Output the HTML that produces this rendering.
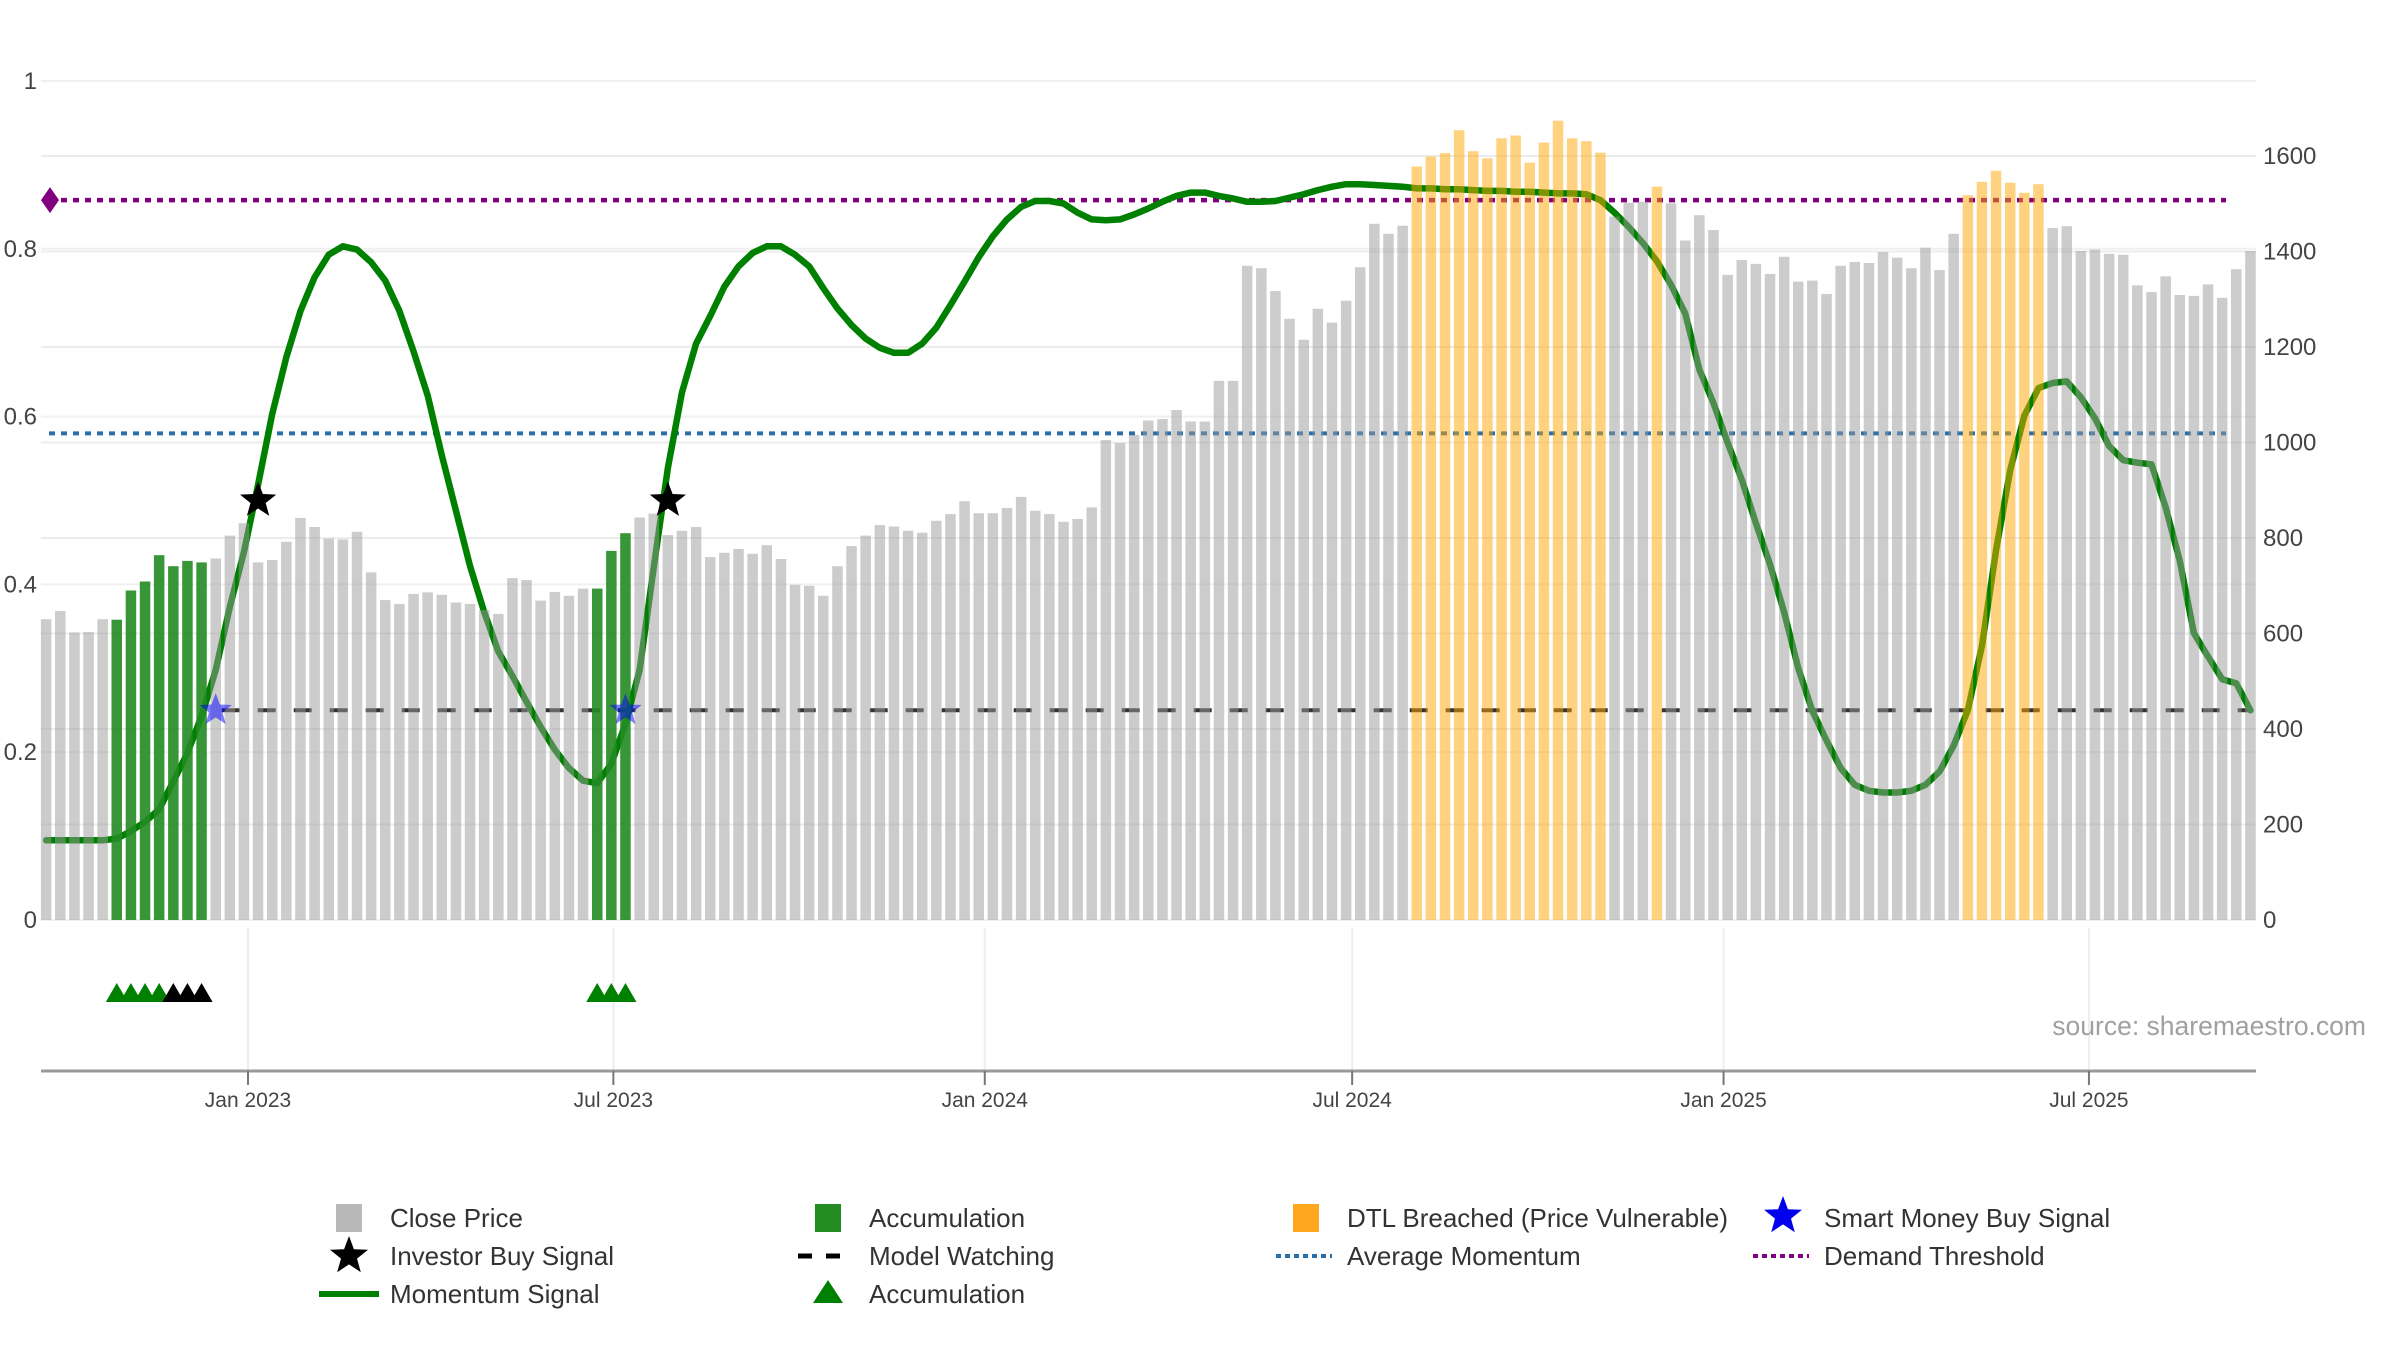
<!DOCTYPE html>
<html><head><meta charset="utf-8"><title>Momentum chart</title>
<style>
html,body{margin:0;padding:0;background:#fff;}
svg{display:block;font-family:"Liberation Sans",sans-serif;}
</style></head>
<body>
<svg id="chart" xmlns="http://www.w3.org/2000/svg" width="2400" height="1350" viewBox="0 0 2400 1350">
<rect x="0" y="0" width="2400" height="1350" fill="#fff"/>
<g id="grid"></g>
<g id="lines"></g>
<g id="momentum"></g>
<g id="bars"></g>
<g id="markers"></g>
<g id="axes"></g>
<text x="2366" y="1035" text-anchor="end" font-size="26.5" fill="#a0a0a0">source: sharemaestro.com</text>
<g id="legend"></g>
</svg>
<script>
// ---------- data ----------
const startDate = "2022-09-23"; // first weekly bar
const closePrice = [
630,647,602,603,630,629,690,709,764,741,752,749,757,805,831,749,754,792,842,823,
799,797,813,728,670,662,683,686,681,665,662,649,641,716,712,669,687,679,694,694,
773,810,843,851,
806,815,823,760,769,777,767,785,756,702,700,679,741,783,805,827,824,815,811,836,
850,877,852,852,863,886,857,850,834,840,864,1005,999,1016,1046,1049,1068,1044,1044,1129,
1129,1370,1365,1317,1259,1215,1280,1251,1297,1367,1458,1437,1454,
1578,1599,1606,1654,1610,1595,1637,1643,1586,1628,1674,1637,1631,1607,
1473,1502,1504,1536,
1501,1423,1476,1445,1351,1382,1374,1353,1389,1337,1339,1311,1370,1378,1376,1399,1387,1365,1408,1361,1437,
1518,1546,1569,1544,1523,1541,
1449,1453,1401,1404,1395,1393,1329,1315,1348,1309,1307,1331,1303,1363,1401
];
// bar category runs: n = close price, g = accumulation, o = DTL breached
const barTypeRuns = [["n",5],["g",7],["n",27],["g",3],["n",55],["o",14],["n",3],["o",1],["n",21],["o",6],["n",15]];
const momentum = [
.095,.095,.095,.095,.095,.097,.106,.117,.132,.165,.199,.243,.298,.373,.439,.519,.603,.671,.726,.766,
.793,.803,.799,.784,.762,.726,.678,.625,.554,.488,.422,.367,.320,.291,.260,.230,.203,.181,.166,.163,
.186,.234,.298,.420,.539,.629,.687,.720,.755,.779,.795,.803,.803,.793,.779,.753,.729,.709,.693,.682,
.676,.676,.687,.706,.733,.761,.790,.815,.835,.850,.857,.857,.854,.843,.835,.834,.835,.841,.848,.856,
.863,.867,.867,.863,.860,.856,.856,.857,.861,.865,.870,.874,.877,.877,.876,.875,.874,.872,.872,.871,
.871,.870,.869,.869,.868,.868,.867,.866,.866,.865,.858,.843,.826,.807,.785,.757,.723,.656,.616,.569,
.525,.473,.424,.367,.300,.249,.214,.181,.161,.154,.152,.152,.154,.161,.177,.208,.250,.327,.441,.536,
.601,.634,.640,.642,.623,.598,.565,.548,.545,.543,.492,.428,.342,.314,.287,.282,.250
];
const investorBuyIdx = [15, 44];
const investorBuyLevel = [0.5, 0.5];
const smartMoneyIdx = [12, 41];
const smartMoneyLevel = [0.25, 0.25];
const accumTriIdx = [5,6,7,8,39,40,41];
const blackTriIdx = [9,10,11];
const demandThreshold = 0.858;
const averageMomentum = 0.580;
const modelWatching = 0.25;
const modelWatchStartIdx = 12;
const leftTicks = [0,0.2,0.4,0.6,0.8,1];
const leftTickLabels = ["0","0.2","0.4","0.6","0.8","1"];
const rightTicks = [0,200,400,600,800,1000,1200,1400,1600];
const xTickDates = ["2023-01-01","2023-07-01","2024-01-01","2024-07-01","2025-01-01","2025-07-01"];
const xTickLabels = ["Jan 2023","Jul 2023","Jan 2024","Jul 2024","Jan 2025","Jul 2025"];

// ---------- scales ----------
const NS="http://www.w3.org/2000/svg";
const PX_PER_DAY = 14.13/7;
const X0_DATE = Date.parse("2023-01-01T00:00:00Z");
const X0 = 248;
function xDate(s){ return X0 + (Date.parse(s+"T00:00:00Z")-X0_DATE)/86400000*PX_PER_DAY; }
const START_X = xDate(startDate);
function xIdx(i){ return START_X + i*7*PX_PER_DAY; }
const BASE = 920;
function yL(v){ return BASE - v*839; }
function yR(p){ return BASE - p*0.4775; }
const PLOT_L = 41, PLOT_R = 2256;
function mk(tag, attrs, parent){ const e=document.createElementNS(NS,tag); for(const k in attrs) e.setAttribute(k, attrs[k]); parent.appendChild(e); return e; }
function starPts(cx,cy,r){ const p=[]; for(let k=0;k<10;k++){ const a=-Math.PI/2+k*Math.PI/5; const rr=k%2?r*0.42:r; p.push((cx+rr*Math.cos(a)).toFixed(1)+","+(cy+rr*Math.sin(a)).toFixed(1)); } return p.join(" "); }

const barType=[]; barTypeRuns.forEach(r=>{ for(let k=0;k<r[1];k++) barType.push(r[0]); });

// grid
const grid=document.getElementById('grid');
rightTicks.forEach(p=>{ const l=mk('line',{x1:PLOT_L,x2:PLOT_R,y1:yR(p),y2:yR(p),stroke:'#ececec','stroke-width':2},grid);
   });
leftTicks.forEach(v=>{ const l=mk('line',{x1:PLOT_L,x2:PLOT_R,y1:yL(v),y2:yL(v),stroke:'#f0f0f0','stroke-width':2},grid);
   });
xTickDates.forEach(d=>{ const x=xDate(d); const l=mk('line',{x1:x,x2:x,y1:928,y2:1070,stroke:'#eeeeee','stroke-width':2},grid);
   });

// reference lines
const lines=document.getElementById('lines');
let l1=mk('line',{x1:PLOT_L+8,x2:PLOT_R-30,y1:yL(demandThreshold),y2:yL(demandThreshold),stroke:'#800080','stroke-width':4.5,'stroke-dasharray':'6 6'},lines);
 
let dm=mk('polygon',{points:`${PLOT_L},${yL(demandThreshold)} ${PLOT_L+9},${yL(demandThreshold)-13} ${PLOT_L+18},${yL(demandThreshold)} ${PLOT_L+9},${yL(demandThreshold)+13}`,fill:'#800080'},lines);
 
let l2=mk('line',{x1:PLOT_L+8,x2:PLOT_R-30,y1:yL(averageMomentum),y2:yL(averageMomentum),stroke:'#2a6fa8','stroke-width':4,'stroke-dasharray':'6 6'},lines);
 
let l3=mk('line',{x1:xIdx(modelWatchStartIdx)+6,x2:xIdx(closePrice.length-1),y1:yL(modelWatching),y2:yL(modelWatching),stroke:'#333','stroke-width':4,'stroke-dasharray':'18 18'},lines);
 

// momentum line
const mg=document.getElementById('momentum');
const mpts=momentum.map((v,i)=>xIdx(i).toFixed(1)+","+yL(v).toFixed(1)).join(" ");
const ml=mk('polyline',{points:mpts,fill:'none',stroke:'#008000','stroke-width':6.5,'stroke-linejoin':'round','stroke-linecap':'round'},mg);
 

// bars
const bg=document.getElementById('bars');
const colors={n:['#999999',0.5],g:['#228b22',0.9],o:['#ffa500',0.5]};
closePrice.forEach((p,i)=>{ const t=barType[i]; const w=10.5; const x=xIdx(i)-w/2;
 const r=mk('rect',{x:x.toFixed(1),y:yR(p).toFixed(1),width:w,height:(BASE-yR(p)).toFixed(1),fill:colors[t][0],'fill-opacity':colors[t][1]},bg);
 
  });

// markers
const mkg=document.getElementById('markers');
smartMoneyIdx.forEach((i,k)=>{ const s=mk('polygon',{points:starPts(xIdx(i),yL(smartMoneyLevel[k]),17),fill:'#0000ff','fill-opacity':0.5},mkg);
   });
investorBuyIdx.forEach((i,k)=>{ const s=mk('polygon',{points:starPts(xIdx(i),yL(investorBuyLevel[k]),19),fill:'#000'},mkg);
   });
function tri(i,color){ const x=xIdx(i); const t=mk('polygon',{points:`${x-11},1002 ${x+11},1002 ${x},983`,fill:color},mkg); return t; }
accumTriIdx.forEach(i=>{ const t=tri(i,'#008000');
   });
blackTriIdx.forEach(i=>{ const t=tri(i,'#000');
   });

// axes
const ax=document.getElementById('axes');
const xl=mk('line',{x1:PLOT_L,x2:PLOT_R,y1:1071,y2:1071,stroke:'#999','stroke-width':3},ax);
 
xTickDates.forEach((d,k)=>{ const x=xDate(d);
 const t=mk('line',{x1:x,x2:x,y1:1071,y2:1085,stroke:'#777','stroke-width':2},ax);
  
 const tx=mk('text',{x:x,y:1107,'text-anchor':'middle','font-size':21,fill:'#444'},ax); tx.textContent=xTickLabels[k];
   });
leftTicks.forEach((v,k)=>{ const tx=mk('text',{x:37,y:yL(v)+8,'text-anchor':'end','font-size':24,fill:'#444'},ax); tx.textContent=leftTickLabels[k];
   });
rightTicks.forEach(p=>{ const tx=mk('text',{x:2263,y:yR(p)+8,'text-anchor':'start','font-size':24,fill:'#444'},ax); tx.textContent=String(p);
   });

// legend
const lg=document.getElementById('legend');
const legendCols=[349,828,1306,1783];
const legendRows=[1218,1256,1294];
const legendItems=[
 ["Close Price",0,0,"rectgray"],["Accumulation",1,0,"rectgreen"],["DTL Breached (Price Vulnerable)",2,0,"rectorange"],["Smart Money Buy Signal",3,0,"starblue"],
 ["Investor Buy Signal",0,1,"starblack"],["Model Watching",1,1,"dash"],["Average Momentum",2,1,"dotblue"],["Demand Threshold",3,1,"dotpurple"],
 ["Momentum Signal",0,2,"line"],["Accumulation",1,2,"tri"]];
legendItems.forEach(it=>{ const cx=legendCols[it[1]], cy=legendRows[it[2]];
 const g=mk('g',{},lg);
  
 const s=it[3];
 if(s==='rectgray') mk('rect',{x:cx-13,y:cy-14,width:26,height:28,fill:'#b8b8b8'},g);
 if(s==='rectgreen') mk('rect',{x:cx-13,y:cy-14,width:26,height:28,fill:'#228b22'},g);
 if(s==='rectorange') mk('rect',{x:cx-13,y:cy-14,width:26,height:28,fill:'#ffa81f'},g);
 if(s==='starblue') mk('polygon',{points:starPts(cx,cy-2,20),fill:'#0000ee'},g);
 if(s==='starblack') mk('polygon',{points:starPts(cx,cy,20),fill:'#000'},g);
 if(s==='dash') mk('line',{x1:cx-30,x2:cx+26,y1:cy,y2:cy,stroke:'#000','stroke-width':5,'stroke-dasharray':'14 14'},g);
 if(s==='dotblue') mk('line',{x1:cx-30,x2:cx+26,y1:cy,y2:cy,stroke:'#2a6fa8','stroke-width':4,'stroke-dasharray':'5 4'},g);
 if(s==='dotpurple') mk('line',{x1:cx-30,x2:cx+26,y1:cy,y2:cy,stroke:'#800080','stroke-width':4,'stroke-dasharray':'5 4'},g);
 if(s==='line') mk('line',{x1:cx-30,x2:cx+30,y1:cy,y2:cy,stroke:'#008000','stroke-width':6},g);
 if(s==='tri') mk('polygon',{points:`${cx-15},${cy+9} ${cx+15},${cy+9} ${cx},${cy-14}`,fill:'#008000'},g);
 const tx=mk('text',{x:cx+41,y:cy+9,'font-size':26,fill:'#333'},g); tx.textContent=it[0];
});
</script>
</body></html>
